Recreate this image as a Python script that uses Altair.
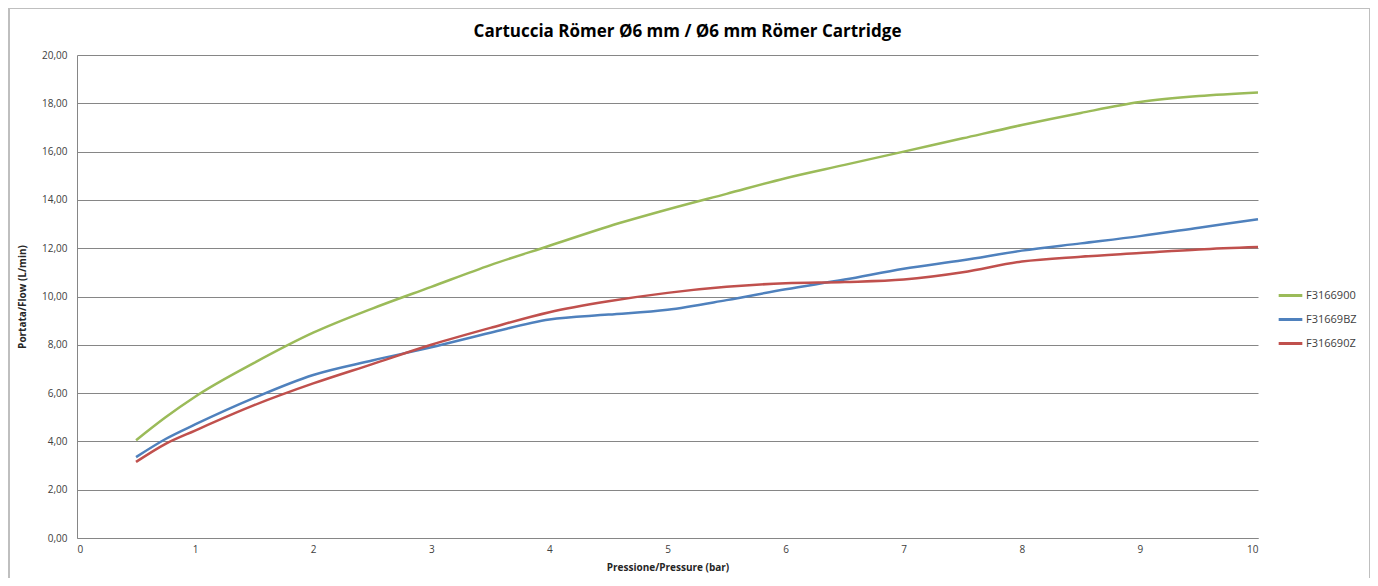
import altair as alt
import pandas as pd

pressure = [0.5, 0.75, 1.0, 1.5, 2.0, 2.5, 3.0, 3.5, 4.0, 4.5, 5.0, 5.5, 6.0, 6.5, 7.0, 7.5, 8.0, 8.5, 9.0, 9.5, 10.0]
f3166900 = [4.05, 5.0, 5.85, 7.25, 8.5, 9.5, 10.4, 11.3, 12.1, 12.9, 13.6, 14.25, 14.9, 15.45, 16.0, 16.55, 17.1, 17.6, 18.05, 18.3, 18.45]
f31669bz = [3.35, 4.1, 4.7, 5.8, 6.75, 7.35, 7.9, 8.5, 9.05, 9.25, 9.45, 9.85, 10.3, 10.7, 11.15, 11.5, 11.9, 12.2, 12.5, 12.85, 13.2]
f316690z = [3.15, 3.9, 4.45, 5.5, 6.4, 7.2, 8.0, 8.7, 9.35, 9.8, 10.15, 10.4, 10.55, 10.6, 10.7, 11.0, 11.45, 11.65, 11.8, 11.95, 12.05]
series_names = ["F3166900", "F31669BZ", "F316690Z"]
series_colors = ["#9BBB59", "#4F81BD", "#C0504D"]

rows = []
for name, vals in zip(series_names, [f3166900, f31669bz, f316690z]):
    for p, v in zip(pressure, vals):
        rows.append({"pressure": p, "flow": v, "series": name})
df = pd.DataFrame(rows)

lines = alt.Chart(df).mark_line(strokeWidth=2.5, interpolate="monotone").encode(
    x=alt.X("pressure:Q", scale=alt.Scale(domain=[0, 10], nice=False),
            axis=alt.Axis(title="Pressione/Pressure (bar)", values=list(range(0, 11)), format="d",
                          grid=False, ticks=False, labelPadding=6, titlePadding=8)),
    y=alt.Y("flow:Q", scale=alt.Scale(domain=[0, 20], nice=False),
            axis=alt.Axis(title="Portata/Flow (L/min)", values=list(range(0, 21, 2)),
                          labelExpr="replace(format(datum.value, '.2f'), '.', ',')",
                          grid=True, ticks=False, labelPadding=10, titlePadding=14)),
    color=alt.Color("series:N", scale=alt.Scale(domain=series_names, range=series_colors),
                    legend=alt.Legend(title=None, orient="none", legendX=1200, legendY=227,
                                      symbolType="stroke", symbolSize=560, symbolStrokeWidth=3,
                                      labelFontSize=11, labelColor="#404040", rowPadding=4,
                                      labelFont="Open Sans", labelOffset=2)),
)

frame = alt.Chart(df).mark_rule(color="#BFBFBF", strokeWidth=1.5).encode(
    x=alt.value(-68), x2=alt.value(1293), y=alt.value(-47)
)
frame_l = alt.Chart(df).mark_rule(color="#BFBFBF", strokeWidth=1.5).encode(
    x=alt.value(-68), y=alt.value(-47), y2=alt.value(540)
)
frame_r = alt.Chart(df).mark_rule(color="#BFBFBF", strokeWidth=1.5).encode(
    x=alt.value(1293), y=alt.value(-47), y2=alt.value(540)
)

chart = alt.layer(frame, frame_l, frame_r, lines).properties(
    width=1181, height=483,
    autosize=alt.AutoSizeParams(type="none"),
    padding={"left": 69, "top": 47, "right": 112, "bottom": 40},
    title=alt.TitleParams("Cartuccia Römer Ø6 mm / Ø6 mm Römer Cartridge", fontSize=17,
                          font="Open Sans", fontWeight="bold", color="#000000", dx=20,
                          offset=0, dy=34),
).configure_view(stroke=None).configure_axis(
    domainColor="#868686", gridColor="#868686", gridWidth=1, domainWidth=1,
    labelFont="Open Sans", labelFontSize=10, labelColor="#404040",
    titleFont="Open Sans", titleFontSize=10, titleFontWeight="bold", titleColor="#262626",
)

chart.save("out.html", embed_options={"renderer": "svg", "actions": False})
